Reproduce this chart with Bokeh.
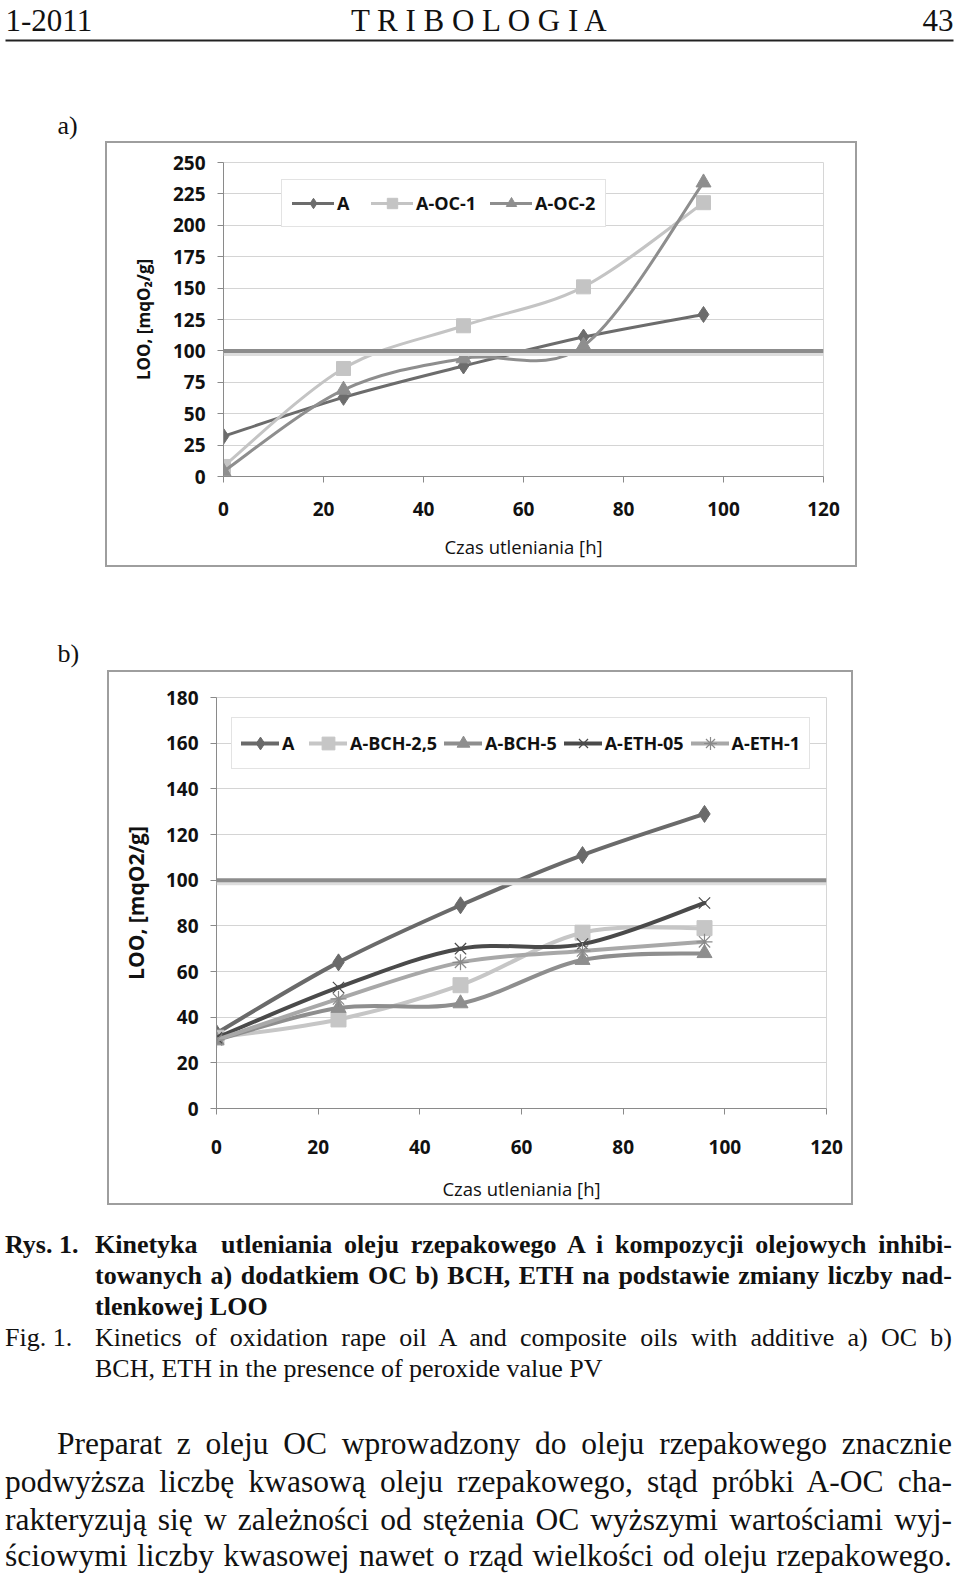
import numpy as np
from bokeh.plotting import figure
from bokeh.models import (Range1d, FixedTicker, Legend, LegendItem, Span,
                          Div, ColumnDataSource, Spacer)
from bokeh.layouts import column, row
from bokeh.core.properties import value
from bokeh.embed import file_html
from bokeh.resources import INLINE

# ---------------- data ----------------
HOURS = [0, 24, 48, 72, 96]
X_TICKS = [0, 20, 40, 60, 80, 100, 120]
LIMIT = 100

# chart a)
A_NAMES = ["A", "A-OC-1", "A-OC-2"]
A_LOO = [32, 63, 88, 111, 129]
A_OC1 = [8, 86, 120, 151, 218]
A_OC2 = [4, 69, 94, 104, 234]
A_Y_TICKS = [0, 25, 50, 75, 100, 125, 150, 175, 200, 225, 250]

# chart b)
B_NAMES = ["A", "A-BCH-2,5", "A-BCH-5", "A-ETH-05", "A-ETH-1"]
B_A = [33, 64, 89, 111, 129]
B_BCH25 = [31, 39, 54, 77, 79]
B_BCH5 = [30, 44, 46, 65, 68]
B_ETH05 = [31, 53, 70, 72, 90]
B_ETH1 = [30, 48, 64, 69, 73]
B_Y_TICKS = [0, 20, 40, 60, 80, 100, 120, 140, 160, 180]

PAGE_W = 960
CHART_FONT = "Open Sans"
SERIF = "Liberation Serif"


def smooth_segments(xs, ys, k=1.0 / 6.0):
    """Cubic Bezier segments through the data points (Excel-like smoothing)."""
    xs = np.asarray(xs, float)
    ys = np.asarray(ys, float)
    n = len(xs)
    d = dict(x0=[], y0=[], x1=[], y1=[], cx0=[], cy0=[], cx1=[], cy1=[])
    for i in range(n - 1):
        a = max(i - 1, 0)
        b = min(i + 2, n - 1)
        d["x0"].append(xs[i]); d["y0"].append(ys[i])
        d["x1"].append(xs[i + 1]); d["y1"].append(ys[i + 1])
        d["cx0"].append(xs[i] + (xs[i + 1] - xs[a]) * k)
        d["cy0"].append(ys[i] + (ys[i + 1] - ys[a]) * k)
        d["cx1"].append(xs[i + 1] - (xs[b] - xs[i]) * k)
        d["cy1"].append(ys[i + 1] - (ys[b] - ys[i]) * k)
    return ColumnDataSource(d)


def make_chart(width, height, left, right, top, bottom, y_max, y_ticks,
               series, legend_cfg, y_title, y_title_size, x_std, x_title_std,
               y_title_std, line_w):
    p = figure(width=width, height=height, x_range=Range1d(0, 120),
               y_range=Range1d(0, y_max), toolbar_location=None,
               output_backend="svg", min_border_left=left,
               min_border_right=right, min_border_top=top,
               min_border_bottom=bottom, frame_align=False,
               styles={"box-shadow": "inset 0 0 0 2px #9e9e9e"})
    p.background_fill_color = "white"
    p.border_fill_alpha = 0
    p.outline_line_color = "#d6d6d6"
    p.xgrid.visible = False
    p.ygrid.ticker = FixedTicker(ticks=y_ticks)
    p.ygrid.grid_line_color = "#d4d4d4"
    p.xaxis.ticker = FixedTicker(ticks=X_TICKS)
    p.yaxis.ticker = FixedTicker(ticks=y_ticks)
    for ax in (p.xaxis, p.yaxis):
        ax.axis_line_color = "#8a8a8a"
        ax.major_tick_line_color = "#8a8a8a"
        ax.minor_tick_line_color = None
        ax.major_tick_in = 0
        ax.major_tick_out = 6
        ax.major_label_text_font = CHART_FONT
        ax.major_label_text_font_size = "19px"
        ax.major_label_text_font_style = "bold"
        ax.major_label_text_color = "#111111"
    p.xaxis.major_label_standoff = x_std
    p.yaxis.major_label_standoff = 12
    p.xaxis.axis_label = "Czas utleniania [h]"
    p.xaxis.axis_label_text_font = CHART_FONT
    p.xaxis.axis_label_text_font_size = "18.5px"
    p.xaxis.axis_label_text_font_style = "normal"
    p.xaxis.axis_label_text_color = "#111111"
    p.xaxis.axis_label_standoff = x_title_std
    p.yaxis.axis_label = y_title
    p.yaxis.axis_label_text_font = CHART_FONT
    p.yaxis.axis_label_text_font_size = y_title_size
    p.yaxis.axis_label_text_font_style = "bold"
    p.yaxis.axis_label_text_color = "#111111"
    p.yaxis.axis_label_standoff = y_title_std

    # threshold line with its soft shadow
    frame_h = height - top - bottom
    px = y_max / frame_h
    p.add_layout(Span(location=LIMIT - 3 * px, dimension="width",
                      line_color="#dddddd", line_width=4))
    p.add_layout(Span(location=LIMIT, dimension="width",
                      line_color="#8c8c8c", line_width=4))

    items = []
    for name, ys, color, marker, msize, mline in series:
        src = smooth_segments(HOURS, ys)
        bz = p.bezier(x0="x0", y0="y0", x1="x1", y1="y1", cx0="cx0",
                      cy0="cy0", cx1="cx1", cy1="cy1", source=src,
                      line_color=color, line_width=line_w, line_cap="round")
        if marker in ("x", "asterisk"):
            sc = p.scatter(HOURS, ys, marker=marker, size=msize,
                           line_color=mline, line_width=1.2,
                           fill_color=None)
        else:
            sc = p.scatter(HOURS, ys, marker=marker, size=msize,
                           fill_color=color, line_color=color)
        items.append(LegendItem(label=name, renderers=[bz, sc]))

    loc, pad, spacing, gw, gh = legend_cfg
    leg = Legend(items=items, location=loc, orientation="horizontal",
                 border_line_color="#c8c8c8", border_line_width=1,
                 background_fill_color="white", background_fill_alpha=1,
                 padding=pad, spacing=spacing, margin=0,
                 glyph_width=gw, glyph_height=gh, label_standoff=3,
                 label_text_font=CHART_FONT, label_text_font_size="18px",
                 label_text_font_style="bold", label_text_color="#111111")
    p.add_layout(leg, "center")
    return p


def text_fig(height):
    f = figure(width=PAGE_W, height=height, x_range=Range1d(0, PAGE_W),
               y_range=Range1d(height, 0), toolbar_location=None,
               output_backend="svg", min_border=0, frame_align=False)
    f.axis.visible = False
    f.grid.visible = False
    f.outline_line_color = None
    f.background_fill_color = "white"
    f.border_fill_color = "white"
    return f


# ---------------- header ----------------
top = text_fig(141)
hdr = dict(text_font=value(SERIF), text_font_size="31px",
           text_baseline="alphabetic", text_color="#111111")
top.text(x=[5], y=[20], text=["1-2011"], text_align="left", **hdr)
top.text(x=[480], y=[20], text=["T R I B O L O G I A"], text_align="center", **hdr)
top.text(x=[953], y=[20], text=["43"], text_align="right", **hdr)
top.segment(x0=[5], y0=[40], x1=[953], y1=[40], line_color="#222222", line_width=2)
top.text(x=[57], y=[125], text=["a)"], text_align="left",
         text_font=value(SERIF), text_font_size="26px",
         text_baseline="alphabetic", text_color="#111111")

# ---------------- chart a ----------------
series_a = [
    (A_NAMES[0], A_LOO, "#6c6c6c", "diamond", 16, None),
    (A_NAMES[1], A_OC1, "#c4c4c4", "square", 14, None),
    (A_NAMES[2], A_OC2, "#8e8e8e", "triangle", 15, None),
]
pa = make_chart(752, 426, 118, 34, 21, 91, 250, A_Y_TICKS, series_a,
                ((58, 249), 10, 14, 42, 26), "LOO, [mqO₂/g]", "17px",
                19, 15, 15, 3)

mid = text_fig(103)
mid.text(x=[57], y=[86], text=["b)"], text_align="left",
         text_font=value(SERIF), text_font_size="26px",
         text_baseline="alphabetic", text_color="#111111")

# ---------------- chart b ----------------
series_b = [
    (B_NAMES[0], B_A, "#6a6a6a", "diamond", 17, None),
    (B_NAMES[1], B_BCH25, "#c6c6c6", "square", 15, None),
    (B_NAMES[2], B_BCH5, "#8e8e8e", "triangle", 15, None),
    (B_NAMES[3], B_ETH05, "#4a4a4a", "x", 16, "#4a4a4a"),
    (B_NAMES[4], B_ETH1, "#a8a8a8", "asterisk", 16, "#8a8a8a"),
]
pb = make_chart(746, 535, 109, 27, 27, 97, 180, B_Y_TICKS, series_b,
                ((15, 339), 9, 7, 38, 32), "LOO, [mqO2/g]", "21px",
                25, 19, 13, 4)

# ---------------- caption and body text ----------------
just = "text-align:justify;text-align-last:justify;"
caption = f"""
<div style="font-family:'{SERIF}';color:#111;width:{PAGE_W}px;height:369px;overflow:hidden;box-sizing:border-box;padding:0 8px 0 5px;">
 <div style="height:24px"></div>
 <div style="display:flex;font-size:26px;line-height:31px;font-weight:bold;">
  <div style="width:90px;flex:none;">Rys. 1.</div>
  <div style="flex:1;">
   <div style="{just}">Kinetyka&nbsp; utleniania oleju rzepakowego A i kompozycji olejowych inhibi-</div>
   <div style="{just}">towanych a) dodatkiem OC b) BCH, ETH na podstawie zmiany liczby nad-</div>
   <div>tlenkowej LOO</div>
  </div>
 </div>
 <div style="display:flex;font-size:26px;line-height:31px;">
  <div style="width:90px;flex:none;">Fig. 1.</div>
  <div style="flex:1;">
   <div style="{just}">Kinetics of oxidation rape oil A and composite oils with additive a) OC b)</div>
   <div>BCH, ETH in the presence of peroxide value PV</div>
  </div>
 </div>
 <div style="height:41px"></div>
 <div style="font-size:31.5px;line-height:37.8px;">
  <div style="{just}padding-left:52px;">Preparat z oleju OC wprowadzony do oleju rzepakowego znacznie</div>
  <div style="{just}">podwyższa liczbę kwasową oleju rzepakowego, stąd próbki A-OC cha-</div>
  <div style="{just}">rakteryzują się w zależności od stężenia OC wyższymi wartościami wyj-</div>
  <div style="{just}line-height:34px;padding-top:0.9px;">ściowymi liczby kwasowej nawet o rząd wielkości od oleju rzepakowego.</div>
 </div>
</div>
"""
text_div = Div(text=caption, width=PAGE_W, height=369, margin=0)

layout = column(
    top,
    row(Spacer(width=105, height=426), pa),
    mid,
    row(Spacer(width=107, height=535), pb),
    text_div,
    spacing=0,
)
open("out.html", "w").write(file_html(layout, INLINE))
